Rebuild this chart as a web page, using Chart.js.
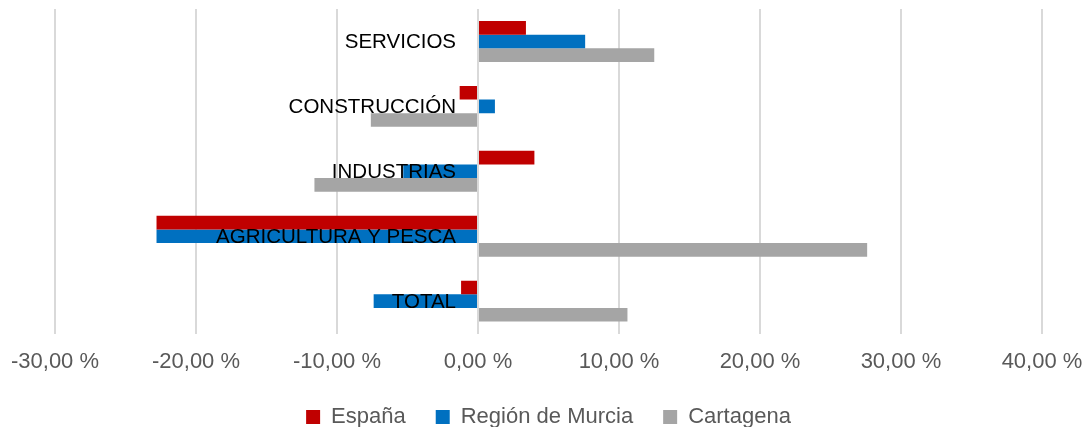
<!DOCTYPE html>
<html>
<head>
<meta charset="utf-8">
<script src="https://cdn.jsdelivr.net/npm/chart.js@4.4.1/dist/chart.umd.min.js"></script>
<style>
  html, body { margin: 0; padding: 0; background: #fff; }
  #wrap { width: 1091px; height: 427px; }
</style>
</head>
<body>
<div id="wrap"><canvas id="myGraph" width="1091" height="427"></canvas></div>
<script>
// sectores, de arriba abajo
const categories = ["SERVICIOS", "CONSTRUCCIÓN", "INDUSTRIAS", "AGRICULTURA Y PESCA", "TOTAL"];

// variación en %
const espana = [3.4, -1.3, 4.0, -22.8, -1.2];
const murcia = [7.6, 1.2, -5.3, -22.8, -7.4];
const cartagena = [12.5, -7.6, -11.6, 27.6, 10.6];

const xMin = -30;
const xMax = 40;
const xStep = 10;

const font = "'Liberation Sans', Arial, sans-serif";

// nombres de sector pegados al eje del cero
const sectorLabels = {
  id: "sectorLabels",
  afterDatasetsDraw(chart) {
    const { ctx, scales } = chart;
    const x0 = scales.x.getPixelForValue(0);
    ctx.save();
    ctx.font = "20.5px " + font;
    ctx.fillStyle = "#000";
    ctx.textAlign = "right";
    ctx.textBaseline = "middle";
    categories.forEach((c, i) => {
      ctx.fillText(c, x0 - 22, scales.y.getPixelForValue(i) + 1);
    });
    ctx.restore();
  },
};

new Chart(document.getElementById("myGraph"), {
  type: "bar",
  data: {
    labels: categories,
    datasets: [
      { label: "España", data: espana, backgroundColor: "#C00000" },
      { label: "Región de Murcia", data: murcia, backgroundColor: "#0070C0" },
      { label: "Cartagena", data: cartagena, backgroundColor: "#A5A5A5" },
    ],
  },
  options: {
    indexAxis: "y",
    responsive: false,
    animation: false,
    datasets: {
      bar: { barPercentage: 1, categoryPercentage: 0.63 },
    },
    layout: { padding: { top: 9, left: 55, right: 49, bottom: -11 } },
    plugins: {
      tooltip: { enabled: false },
      legend: {
        position: "bottom",
        labels: {
          color: "#595959",
          font: { family: font, size: 22 },
          boxWidth: 14,
          boxHeight: 14,
          padding: 30,
        },
      },
    },
    scales: {
      x: {
        min: xMin,
        max: xMax,
        afterFit: (scale) => {
          scale.paddingLeft = 0;
          scale.paddingRight = 0;
          scale.height -= 14;
        },
        ticks: {
          stepSize: xStep,
          color: "#595959",
          font: { family: font, size: 22 },
          padding: 15,
          maxRotation: 0,
          callback: (v) => v.toFixed(2).replace(".", ",") + " %",
        },
        grid: { color: "#d9d9d9", lineWidth: 2, drawTicks: false },
        border: { display: false },
      },
      y: {
        display: false,
      },
    },
  },
  plugins: [sectorLabels],
});
</script>
</body>
</html>
